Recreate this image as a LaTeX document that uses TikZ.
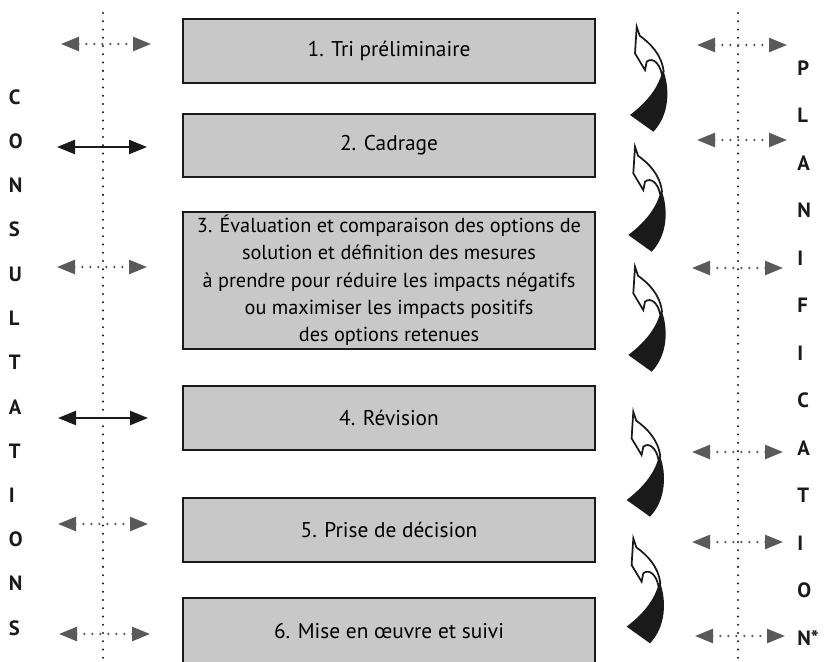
\documentclass[tikz,border=0pt]{standalone}
\usepackage{fontspec}
\setmainfont{PT Sans}
\usetikzlibrary{arrows.meta}
\definecolor{boxgray}{HTML}{C8C8C8}
\definecolor{tipgray}{HTML}{5A5A5A}
\definecolor{ink}{HTML}{1A1A1A}
\tikzset{
  stepbox/.style={draw=ink, line width=1pt, fill=boxgray, minimum width=309pt,
    inner sep=0pt, align=center, font=\fontsize{16}{20.5}\selectfont},
  vdots/.style={draw=ink, line width=1.7pt, line cap=round, dash pattern=on 0pt off 6.2pt},
  dotarrow/.style={draw=tipgray, line width=1.9pt, line cap=round, dash pattern=on 0pt off 6pt,
    {Triangle[length=13.5pt,width=10.5pt]}-{Triangle[length=13.5pt,width=10.5pt]}},
  solidarrow/.style={draw=ink, line width=1.8pt,
    {Triangle[length=13.5pt,width=10.5pt]}-{Triangle[length=13.5pt,width=10.5pt]}},
  letter/.style={anchor=west, inner sep=0pt, font=\fontsize{15.5}{18}\selectfont\bfseries, text=ink},
  curvarrow/.pic={
    \fill[ink] (27,45) .. controls (33,62) and (33,88) .. (16.7,105) -- (-6.7,88.3)
       .. controls (8,77) and (20,64) .. (25,47) -- cycle;
    \filldraw[fill=white, draw=ink, line width=1.3pt, line join=miter]
       (0,0) -- (3,9) .. controls (14,17) and (25,28) .. (27,45) -- (25,47)
       .. controls (23,37) and (16,30) .. (10,35) -- (8.3,43.3) -- (-1.7,26.7) -- cycle;
  }
}
\begin{document}
\begin{tikzpicture}[x=0.75pt,y=-0.75pt]
\useasboundingbox (0,0) rectangle (825,661);

% boxes
\node[stepbox, minimum height=48pt] (b1) at (389,51) {1. Tri préliminaire};
\node[stepbox, minimum height=47.25pt] (b2) at (389,145.5) {2. Cadrage};
\node[stepbox, minimum height=102.75pt, font=\fontsize{15.2}{20.5}\selectfont] (b3) at (389,280.5)
  {3. Évaluation et comparaison des options de\\ solution et définition des mesures\\
   à prendre pour réduire les impacts négatifs\\ ou maximiser les impacts positifs\\
   des options retenues};
\node[stepbox, minimum height=48pt] (b4) at (389,418) {4. Révision};
\node[stepbox, minimum height=48pt] (b5) at (389,530) {5. Prise de décision};
\node[stepbox, minimum height=49.5pt] (b6) at (389,631) {6. Mise en œuvre et suivi};

% vertical dotted lines
\coordinate (lt) at (103,13); \coordinate (lb) at (103,661);
\coordinate (rt) at (738,13); \coordinate (rb) at (738,661);
\draw[vdots] (lt) -- (lb);
\draw[vdots] (rt) -- (rb);

% left arrows
\coordinate (l1a) at (61,44);  \coordinate (l1b) at (151,44);
\coordinate (l2a) at (57,147); \coordinate (l2b) at (147,147);
\coordinate (l3a) at (57,267); \coordinate (l3b) at (147,267);
\coordinate (l4a) at (58,418); \coordinate (l4b) at (148,418);
\coordinate (l5a) at (58,524); \coordinate (l5b) at (148,524);
\coordinate (l6a) at (59,634); \coordinate (l6b) at (150,634);
\draw[dotarrow] (l1a) -- (l1b);
\draw[solidarrow] (l2a) -- (l2b);
\draw[dotarrow] (l3a) -- (l3b);
\draw[solidarrow] (l4a) -- (l4b);
\draw[dotarrow] (l5a) -- (l5b);
\draw[dotarrow] (l6a) -- (l6b);

% right arrows
\coordinate (r1a) at (697,45);  \coordinate (r1b) at (787,45);
\coordinate (r2a) at (697,140); \coordinate (r2b) at (787,140);
\coordinate (r3a) at (692,268); \coordinate (r3b) at (783,268);
\coordinate (r4a) at (692,452); \coordinate (r4b) at (783,452);
\coordinate (r5a) at (692,542); \coordinate (r5b) at (783,542);
\coordinate (r6a) at (695,636); \coordinate (r6b) at (785,636);
\foreach \i in {1,...,6} { \draw[dotarrow] (r\i a) -- (r\i b); }

% curved arrows
\pic at (636.7,26.7) {curvarrow};
\pic at (635,146.7) {curvarrow};
\pic at (635,266.7) {curvarrow};
\pic at (633.3,411.7) {curvarrow};
\pic at (633.3,538.3) {curvarrow};

% left letters
\foreach \c [count=\i from 0] in {C,O,N,S,U,L,T,A,T,I,O,N,S} {
  \node[letter] (cl\i) at (8.5,{97+44.25*\i}) {\c};
}
% right letters
\foreach \c [count=\i from 0] in {P,L,A,N,I,F,I,C,A,T,I,O,N*} {
  \node[letter] (pl\i) at (797,{68+47.5*\i}) {\c};
}
\end{tikzpicture}
\end{document}
